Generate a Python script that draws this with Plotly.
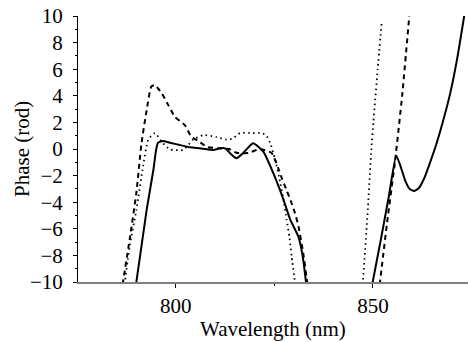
import plotly.graph_objects as go

# Solid curve (left band)
solid_x = [789.9, 792.6, 794.3, 795.0, 795.5, 796.8, 798.5, 801.0, 803.6, 806.1, 809.5, 811.2, 812.5, 813.7, 815.4, 817.1, 819.6, 822.2, 824.7, 827.3, 829.0, 831.1, 832.2, 833.1]
solid_y = [-10.2, -4.6, -1.6, -0.07, 0.47, 0.6, 0.47, 0.3, 0.13, 0.05, -0.07, 0.05, 0.05, -0.3, -0.7, -0.3, 0.43, -0.2, -1.8, -3.8, -5.3, -6.6, -8.1, -10.2]
# Solid curve (right band)
solid2_x = [849.8, 852.0, 854.0, 855.9, 857.0, 858.2, 859.3, 860.4, 861.6, 863.0, 864.5, 866.0, 867.5, 869.6, 871.3, 873.3]
solid2_y = [-10.2, -6.8, -3.6, -0.5, -1.3, -2.4, -3.0, -3.16, -2.95, -2.2, -1.0, 0.3, 1.8, 4.2, 6.7, 10.3]

# Dashed curve
dash_x = [786.5, 788.3, 790.0, 791.3, 792.6, 793.8, 794.7, 796.4, 798.1, 799.8, 802.3, 804.0, 805.7, 808.0, 811.0, 813.5, 815.4, 818.4, 821.3, 824.3, 826.0, 826.9, 828.1, 829.4, 830.2, 831.1, 832.3, 833.4]
dash_y = [-10.2, -6.8, -3.3, 0.43, 2.9, 4.7, 4.8, 4.2, 3.3, 2.4, 1.8, 0.9, 0.6, 0.15, 0.05, 0.0, -0.28, -0.3, 0.0, -0.3, -1.45, -2.2, -3.1, -4.1, -4.8, -5.8, -7.8, -10.2]
dash2_x = [851.7, 853.6, 855.6, 857.4, 859.3]
dash2_y = [-10.2, -5.5, -0.9, 4.0, 10.3]

# Dotted curve
dot_x = [787.0, 788.3, 790.0, 791.7, 793.0, 794.7, 796.4, 798.5, 801.9, 804.4, 807.0, 810.3, 812.9, 814.5, 816.3, 819.6, 821.8, 823.0, 824.0, 825.1, 826.2, 827.3, 828.1, 828.8, 829.4, 830.3]
dot_y = [-10.2, -7.3, -4.6, -1.3, 0.7, 1.2, 0.55, -0.02, -0.07, 0.7, 1.05, 0.9, 0.7, 0.8, 1.2, 1.2, 1.2, 1.0, 0.4, -0.7, -2.1, -3.8, -5.3, -6.6, -8.1, -10.2]
dot2_x = [847.4, 848.6, 849.6, 850.1, 851.2, 852.2]
dot2_y = [-10.2, -5.0, 0.0, 2.0, 6.0, 9.5]

x_ticks = [800, 850]
y_ticks = [-10, -8, -6, -4, -2, 0, 2, 4, 6, 8, 10]
y_tick_text = ["\u221210", "\u22128", "\u22126", "\u22124", "\u22122", "0", "2", "4", "6", "8", "10"]
x_title = "Wavelength (nm)"
y_title = "Phase (rod)"

fig = go.Figure()
def add(xs, ys, dash, width):
    fig.add_trace(go.Scatter(x=xs, y=ys, mode="lines", showlegend=False,
                             line=dict(color="black", width=width, dash=dash, shape="spline", smoothing=0.5)))

add(solid_x, solid_y, "solid", 2)
add(solid2_x, solid2_y, "solid", 2)
add(dash_x, dash_y, "5px,4px", 2)
add(dash2_x, dash2_y, "5px,4px", 2)
add(dot_x, dot_y, "1.5px,3.5px", 1.8)
add(dot2_x, dot2_y, "1.5px,3.5px", 1.8)

font = dict(family="'Liberation Serif', 'Times New Roman', Times, serif", size=21, color="black")
fig.update_layout(
    width=468, height=342,
    margin=dict(l=78, r=0, t=16, b=60),
    paper_bgcolor="white", plot_bgcolor="white",
    font=font,
    annotations=[
        dict(text=x_title, xref="paper", yref="paper", x=0.5, y=0, xanchor="center", yanchor="middle",
             yshift=-47, showarrow=False, font=font),
        dict(text=y_title, xref="paper", yref="paper", x=0, y=0.5, xanchor="center", yanchor="middle",
             xshift=-56, textangle=-90, showarrow=False, font=font),
    ],
)
fig.update_xaxes(
    range=[775.2, 874.1], tickvals=x_ticks, ticks="outside", ticklen=4, tickcolor="black",
    showline=True, linecolor="#808080", linewidth=2, showgrid=False, zeroline=False,
    minor=dict(tickvals=[825], ticks="outside", ticklen=2, tickcolor="black"),
    tickfont=font, automargin=False,
)
fig.update_yaxes(
    range=[-10, 10], tickvals=y_ticks, ticktext=y_tick_text, ticks="outside", ticklen=4, tickcolor="black",
    showline=True, linecolor="black", linewidth=1, showgrid=False, zeroline=False,
    minor=dict(dtick=1, ticks="outside", ticklen=2, tickcolor="black"),
    tickfont=font, automargin=False, ticklabelstandoff=6,
)
fig.write_html("out.html", config={"displayModeBar": False, "staticPlot": True},
               post_script="document.body.style.margin='0';document.body.style.overflow='hidden';")
